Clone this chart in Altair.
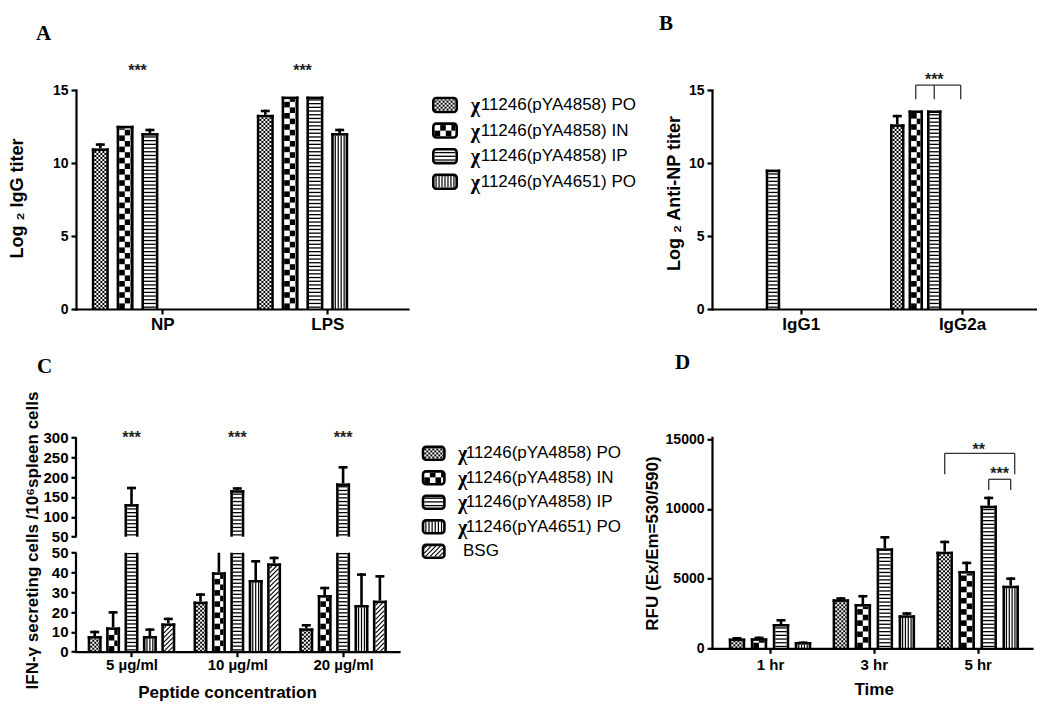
import math
import json
import altair as alt
import pandas as pd

alt.data_transformers.disable_max_rows()

# ------------------------------------------------------------------ data
SERIES = ["PO4858", "IN4858", "IP4858", "PO4651", "BSG"]
SERIES_LABELS = ["χ11246(pYA4858) PO", "χ11246(pYA4858) IN", "χ11246(pYA4858) IP",
                 "χ11246(pYA4651) PO", "BSG"]

# Panel A : Log2 IgG titer
A_groups = ["NP", "LPS"]
A_PO4858 = [11.0, 13.3]
A_IN4858 = [12.55, 14.55]
A_IP4858 = [12.05, 14.55]
A_PO4651 = [None, 12.05]
A_PO4858_sem = [0.35, 0.35]
A_IN4858_sem = [0.0, 0.0]
A_IP4858_sem = [0.3, 0.0]
A_PO4651_sem = [None, 0.3]
A_yticks = [0, 5, 10, 15]
A_sig = ["***", "***"]

# Panel B : Log2 anti-NP titer
B_groups = ["IgG1", "IgG2a"]
B_PO4858 = [None, 12.65]
B_IN4858 = [None, 13.6]
B_IP4858 = [9.55, 13.6]
B_PO4651 = [None, None]
B_PO4858_sem = [None, 0.65]
B_IN4858_sem = [None, 0.0]
B_IP4858_sem = [0.0, 0.0]
B_PO4651_sem = [None, None]
B_yticks = [0, 5, 10, 15]
B_sig = "***"

# Panel C : IFN-gamma secreting cells (broken axis 0-50 | 50-300)
C_groups = ["5 µg/ml", "10 µg/ml", "20 µg/ml"]
C_PO4858 = [7.9, 25.3, 11.8]
C_IN4858 = [12.3, 40.1, 28.6]
C_IP4858 = [132.0, 167.0, 184.0]
C_PO4651 = [7.9, 36.2, 23.6]
C_BSG = [14.3, 44.6, 25.8]
C_PO4858_sem = [2.7, 4.2, 2.2]
C_IN4858_sem = [8.2, 11.5, 4.2]
C_IP4858_sem = [43.7, 7.5, 43.7]
C_PO4651_sem = [3.9, 10.1, 16.0]
C_BSG_sem = [2.9, 3.4, 12.9]
C_yticks_low = [0, 10, 20, 30, 40, 50]
C_yticks_high = [50, 100, 150, 200, 250, 300]
C_sig = ["***", "***", "***"]

# Panel D : RFU
D_groups = ["1 hr", "3 hr", "5 hr"]
D_PO4858 = [700, 3516, 6933]
D_IN4858 = [720, 3180, 5548]
D_IP4858 = [1744, 7177, 10235]
D_PO4651 = [452, 2368, 4493]
D_PO4858_sem = [110, 150, 790]
D_IN4858_sem = [120, 650, 670]
D_IP4858_sem = [360, 880, 650]
D_PO4651_sem = [40, 220, 600]
D_yticks = [0, 5000, 10000, 15000]
D_sig = ["**", "***"]

# ------------------------------------------------------------------ styling helpers
SW = 2.6      # bar outline width (px)
CAP = 9.0     # error cap width (px)
EPS = 1e-3    # the axis break of panel C
PAT = {"PO4858": "fine", "IN4858": "coarse", "IP4858": "hstripe",
       "PO4651": "vstripe", "BSG": "diag"}
SANS = "Liberation Sans"
SERIF = "Liberation Serif"


def pattern(kind, u0, u1, v0, v1):
    """Fill pattern of a bar interior, in local pixel units."""
    rects, lines = [], []
    if u1 - u0 <= 0.2 or v1 - v0 <= 0.2:
        return rects, lines
    if kind in ("fine", "coarse"):
        c = 2.0 if kind == "fine" else 5.6
        nu = int(math.ceil((u1 - u0) / c - 1e-9))
        nv = int(math.ceil((v1 - v0) / c - 1e-9))
        for i in range(nu):
            for j in range(nv):
                if (i + j) % 2 == 0:
                    rects.append((u0 + i * c, min(u1, u0 + (i + 1) * c),
                                  v0 + j * c, min(v1, v0 + (j + 1) * c)))
    elif kind == "hstripe":
        p = 3.7
        v = v0 + p / 2
        while v < v1 - 0.4:
            lines.append((u0, v, u1, v, 1.3))
            v += p
    elif kind == "vstripe":
        n = max(1, int(round((u1 - u0) / 3.0)))
        step = (u1 - u0) / n
        for k in range(n):
            u = u0 + (k + 0.5) * step
            lines.append((u, v0, u, v1, 1.2))
    elif kind == "diag":
        p = 4.6
        w, h = u1 - u0, v1 - v0
        c = -h + p / 2
        while c < w:
            ua, ub = max(0.0, c), min(w, h + c)
            if ub > ua:
                lines.append((u0 + ua, v0 + ua - c, u0 + ub, v0 + ub - c, 1.1))
            c += p
    return rects, lines


def xgeom(left, right, centers):
    kx = (centers[-1] - centers[0]) / (len(centers) - 1)
    return kx, -(centers[0] - left) / kx, (right - centers[0]) / kx, right - left


def bar_marks(ngroups, keys, vals, sems, slot_of, nslots, pitch, barw, kx, xmin,
              ylo, yhi, ky, yorigin=None):
    rects, rules = [], []
    y0 = ylo if yorigin is None else yorigin

    def X(u):
        return xmin + u / kx

    def Y(v):
        return y0 + v / ky

    def line(ua, va, ub, vb, w, c="black"):
        rules.append({"x": X(ua), "y": Y(va), "x2": X(ub), "y2": Y(vb), "w": w, "c": c})

    for gi in range(ngroups):
        for key in keys:
            val = vals[key][gi]
            if val is None or val <= ylo:
                continue
            sem = sems[key][gi] or 0.0
            uc = (gi - xmin) * kx + (slot_of[key] - (nslots - 1) / 2) * pitch
            ul, ur = uc - barw / 2, uc + barw / 2
            clipped = val > yhi
            vt = (min(val, yhi) - ylo) * ky
            r, l = pattern(PAT[key], ul + SW, ur - SW, 0, vt if clipped else vt - SW)
            for (ua, ub, va, vb) in r:
                rects.append({"x": X(ua), "x2": X(ub), "y": Y(va), "y2": Y(vb)})
            for (ua, va, ub, vb, w) in l:
                line(ua, va, ub, vb, w)
            line(ul + SW / 2, 0, ul + SW / 2, vt, SW)
            line(ur - SW / 2, 0, ur - SW / 2, vt, SW)
            if not clipped:
                line(ul, vt - SW / 2, ur, vt - SW / 2, SW)
                if sem > 0:
                    top = val + sem
                    ve = (min(top, yhi) - ylo) * ky
                    line(uc, vt, uc, ve, SW)
                    if top <= yhi:
                        line(uc - CAP / 2, ve - SW / 2, uc + CAP / 2, ve - SW / 2, SW)
    return rects, rules


def frame(rows, cols):
    return pd.DataFrame(rows, columns=cols)


def panel_chart(rects, rules, texts, xdom, yscale, W, H, xaxis, yaxis, title=None):
    xs = alt.Scale(domain=list(xdom), nice=False, zero=False)

    def X():
        return alt.X("x:Q", scale=xs, axis=xaxis)

    def Y():
        return alt.Y("y:Q", scale=yscale, axis=yaxis)

    rect = alt.Chart(frame(rects, ["x", "x2", "y", "y2"])).mark_rect(
        color="black", strokeWidth=0).encode(x=X(), x2=alt.X2("x2"), y=Y(), y2=alt.Y2("y2"))
    rule = alt.Chart(frame(rules, ["x", "x2", "y", "y2", "w", "c"])).mark_rule(
        strokeCap="butt").encode(
        x=X(), x2=alt.X2("x2"), y=Y(), y2=alt.Y2("y2"),
        strokeWidth=alt.StrokeWidth("w:Q", scale=None),
        color=alt.Color("c:N", scale=None))
    layers = [rect, rule]
    if texts:
        layers.append(alt.Chart(frame(texts, ["x", "y", "t"])).mark_text(
            font=SANS, fontSize=16, fontWeight="bold", color="#222222",
            align="center", baseline="middle", dy=4).encode(x=X(), y=Y(), text="t:N"))
    ch = alt.layer(*layers).properties(width=W, height=H)
    if title is not None:
        ch = ch.properties(title=title)
    return ch


def lin(lo, hi):
    return alt.Scale(domain=[lo, hi], nice=False, zero=False)


def ptitle(letter, dx, offset, dy=0):
    return alt.TitleParams(text=letter, anchor="start", frame="group", font=SERIF,
                           fontSize=21, fontWeight="bold", color="black", dx=dx, dy=dy,
                           offset=offset, baseline="alphabetic")


def lab_expr(labels):
    return json.dumps(labels, ensure_ascii=False) + "[datum.value]"


def legend_chart(keys, W, H, sw_left, sw_w, sw_h, row0, step, chi_x, text_x, plain_x):
    rects, rules, outlines, chis, rests = [], [], [], [], []
    for i, key in enumerate(keys):
        vc = H - (row0 + i * step)
        u0, u1 = sw_left, sw_left + sw_w
        v0, v1 = vc - sw_h / 2, vc + sw_h / 2
        r, l = pattern(PAT[key], u0 + SW, u1 - SW, v0 + SW, v1 - SW)
        for (ua, ub, va, vb) in r:
            rects.append({"x": ua, "x2": ub, "y": va, "y2": vb})
        for (ua, va, ub, vb, w) in l:
            rules.append({"x": ua, "y": va, "x2": ub, "y2": vb, "w": w, "c": "black"})
        outlines.append({"x": u0 + SW / 2, "x2": u1 - SW / 2, "y": v0 + SW / 2, "y2": v1 - SW / 2})
        label = SERIES_LABELS[SERIES.index(key)]
        if label.startswith("χ"):
            chis.append({"x": chi_x, "y": vc, "t": "χ"})
            rests.append({"x": text_x, "y": vc, "t": label[1:]})
        else:
            rests.append({"x": plain_x, "y": vc, "t": label})
    xs = alt.Scale(domain=[0, W], nice=False, zero=False)
    ys = alt.Scale(domain=[0, H], nice=False, zero=False)

    def X():
        return alt.X("x:Q", scale=xs, axis=None)

    def Y():
        return alt.Y("y:Q", scale=ys, axis=None)

    l1 = alt.Chart(frame(rects, ["x", "x2", "y", "y2"])).mark_rect(
        color="black", strokeWidth=0).encode(x=X(), x2=alt.X2("x2"), y=Y(), y2=alt.Y2("y2"))
    l2 = alt.Chart(frame(rules, ["x", "x2", "y", "y2", "w", "c"])).mark_rule(
        strokeCap="butt").encode(
        x=X(), x2=alt.X2("x2"), y=Y(), y2=alt.Y2("y2"),
        strokeWidth=alt.StrokeWidth("w:Q", scale=None), color=alt.Color("c:N", scale=None))
    l3 = alt.Chart(frame(outlines, ["x", "x2", "y", "y2"])).mark_rect(
        fillOpacity=0, stroke="black", strokeWidth=SW, cornerRadius=3).encode(
        x=X(), x2=alt.X2("x2"), y=Y(), y2=alt.Y2("y2"))
    l4 = alt.Chart(frame(chis, ["x", "y", "t"])).mark_text(
        font=SERIF, fontSize=20, fontWeight="bold", align="left", baseline="middle",
        color="black", dy=1).encode(x=X(), y=Y(), text="t:N")
    l5 = alt.Chart(frame(rests, ["x", "y", "t"])).mark_text(
        font=SANS, fontSize=17, align="left", baseline="middle", color="black").encode(
        x=X(), y=Y(), text="t:N")
    return alt.layer(l1, l2, l3, l4, l5).properties(width=W, height=H)


def bracket(rules, xl, xr, ytop, ybot_l, ybot_r, xm=None, ybot_m=None):
    col = "#333333"
    rules.append({"x": xl, "y": ytop, "x2": xr, "y2": ytop, "w": 1.3, "c": col})
    rules.append({"x": xl, "y": ytop, "x2": xl, "y2": ybot_l, "w": 1.3, "c": col})
    rules.append({"x": xr, "y": ytop, "x2": xr, "y2": ybot_r, "w": 1.3, "c": col})
    if xm is not None:
        rules.append({"x": xm, "y": ytop, "x2": xm, "y2": ybot_m, "w": 1.3, "c": col})


# ------------------------------------------------------------------ panel A
kxA, xminA, xmaxA, WA = xgeom(77, 409, [163.3, 328.3])
HA = 219
kyA = HA / 15.0
keysA = ["PO4858", "IN4858", "IP4858", "PO4651"]
valsA = {"PO4858": A_PO4858, "IN4858": A_IN4858, "IP4858": A_IP4858, "PO4651": A_PO4651}
semsA = {"PO4858": A_PO4858_sem, "IN4858": A_IN4858_sem, "IP4858": A_IP4858_sem,
         "PO4651": A_PO4651_sem}
slotsA = {"PO4858": 0, "IN4858": 1, "IP4858": 2, "PO4651": 3}
pitchA = 24.8
rA, lA = bar_marks(len(A_groups), keysA, valsA, semsA, slotsA, 6, pitchA, 17, kxA, xminA, 0, 15, kyA)
tA = [{"x": gi - pitchA / kxA, "y": 16.6, "t": s} for gi, s in enumerate(A_sig)]
chartA = panel_chart(
    rA, lA, tA, (xminA, xmaxA), lin(0, 15), WA, HA,
    alt.Axis(values=[0, 1], labelExpr=lab_expr(A_groups), title=None,
             labelFontSize=17, labelPadding=2),
    alt.Axis(values=A_yticks, title="Log ₂ IgG titer", titleX=-58.5, titleY=108,
             titleFontSize=18, labelFontSize=14),
    title=ptitle("A", -40, 2))

# ------------------------------------------------------------------ panel B
kxB, xminB, xmaxB, WB = xgeom(713, 1038, [801.7, 963.0])
HB = 219
kyB = HB / 15.0
valsB = {"PO4858": B_PO4858, "IN4858": B_IN4858, "IP4858": B_IP4858, "PO4651": B_PO4651}
semsB = {"PO4858": B_PO4858_sem, "IN4858": B_IN4858_sem, "IP4858": B_IP4858_sem,
         "PO4651": B_PO4651_sem}
pitchB = 18.5
rB, lB = bar_marks(len(B_groups), keysA, valsB, semsB, slotsA, 8, pitchB, 14.5, kxB, xminB, 0, 15, kyB)
bxL = 1 + (1 - 3.5) * pitchB / kxB
bxM = 1 + (2 - 3.5) * pitchB / kxB
bxR = 1 - 1.3 / kxB
bracket(lB, bxL, bxR, 15.34, 14.36, 14.36, bxM, 14.36)
tB = [{"x": bxM, "y": 15.95, "t": B_sig}]
chartB = panel_chart(
    rB, lB, tB, (xminB, xmaxB), lin(0, 15), WB, HB,
    alt.Axis(values=[0, 1], labelExpr=lab_expr(B_groups), title=None,
             labelFontSize=17, labelPadding=2),
    alt.Axis(values=B_yticks, title="Log ₂ Anti-NP titer", titleX=-38, titleY=103,
             titleFontSize=18, labelFontSize=14),
    title=ptitle("B", -53, 21))

# ------------------------------------------------------------------ panel C (broken axis)
kxC, xminC, xmaxC, WC = xgeom(77, 400, [132.5, 238.3, 344.1])
keysC = ["PO4858", "IN4858", "IP4858", "PO4651", "BSG"]
valsC = {"PO4858": C_PO4858, "IN4858": C_IN4858, "IP4858": C_IP4858, "PO4651": C_PO4651,
         "BSG": C_BSG}
semsC = {"PO4858": C_PO4858_sem, "IN4858": C_IN4858_sem, "IP4858": C_IP4858_sem,
         "PO4651": C_PO4651_sem, "BSG": C_BSG_sem}
slotsC = {k: i for i, k in enumerate(keysC)}
pitchC = 18.4
HC_hi, HC_gap, HC_lo = 99.4, 16.0, 99.0
HC = HC_hi + HC_gap + HC_lo
brk = C_yticks_low[-1]
top = C_yticks_high[-1]
rCh, lCh = bar_marks(3, keysC, valsC, semsC, slotsC, 5, pitchC, 14, kxC, xminC, brk, top,
                     HC_hi / (top - brk), yorigin=brk + EPS)
rCl, lCl = bar_marks(3, keysC, valsC, semsC, slotsC, 5, pitchC, 14, kxC, xminC, 0, brk,
                     HC_lo / brk)
lC = lCl + lCh
# the two pieces of the broken y axis line
lC.append({"x": xminC, "y": 0, "x2": xminC, "y2": brk, "w": 2.2, "c": "black"})
lC.append({"x": xminC, "y": brk + EPS, "x2": xminC, "y2": top, "w": 2.2, "c": "black"})
tC = [{"x": gi, "y": 308, "t": s} for gi, s in enumerate(C_sig)]
yscaleC = alt.Scale(domain=[0, brk, brk + EPS, top], range=[HC, HC_hi + HC_gap, HC_hi, 0],
                    nice=False, zero=False)
chartC = panel_chart(
    rCl + rCh, lC, tC, (xminC, xmaxC), yscaleC, WC, HC,
    alt.Axis(values=[0, 1, 2], labelExpr=lab_expr(C_groups), title="Peptide concentration",
             titleX=151, titleY=41.3, titleFontSize=17, labelFontSize=15, labelPadding=1),
    alt.Axis(values=C_yticks_low + [v + EPS if v == brk else v for v in C_yticks_high],
             format="d", domain=False,
             title="IFN-γ secreting cells /10⁶spleen cells",
             titleX=-44, titleY=102.7, titleFontSize=17, labelFontSize=15),
    title=ptitle("C", -39, 28, dy=31))

# ------------------------------------------------------------------ panel D
kxD, xminD, xmaxD, WD = xgeom(715, 1035, [773.0, 876.85, 980.7])
HD = 211
ymaxD = 15000 * HD / 209.0
kyD = HD / ymaxD
valsD = {"PO4858": D_PO4858, "IN4858": D_IN4858, "IP4858": D_IP4858, "PO4651": D_PO4651}
semsD = {"PO4858": D_PO4858_sem, "IN4858": D_IN4858_sem, "IP4858": D_IP4858_sem,
         "PO4651": D_PO4651_sem}
pitchD = 22
rD, lD = bar_marks(3, keysA, valsD, semsD, slotsA, 4, pitchD, 16.5, kxD, xminD, 0, ymaxD, kyD)
dxL = 2 + (0 - 1.5) * pitchD / kxD
dxR = 2 + (1.5 * pitchD + 4) / kxD
bracket(lD, dxL, dxR, 13995, 12488, 12488)
sxL = 2 + 0.5 * pitchD / kxD
sxR = 2 + 1.5 * pitchD / kxD
bracket(lD, sxL, sxR, 12130, 11362, 11362)
tD = [{"x": 2 + 1 / kxD, "y": 14520, "t": D_sig[0]},
      {"x": (sxL + sxR) / 2, "y": 12800, "t": D_sig[1]}]
chartD = panel_chart(
    rD, lD, tD, (xminD, xmaxD), lin(0, ymaxD), WD, HD,
    alt.Axis(values=[0, 1, 2], labelExpr=lab_expr(D_groups), title="Time",
             titleX=161.7, titleY=41, titleFontSize=17, labelFontSize=15, labelPadding=4),
    alt.Axis(values=D_yticks, format="d", title="RFU (Ex/Em=530/590)", titleX=-60,
             titleY=105.7, titleFontSize=17, labelFontSize=14),
    title=ptitle("D", -37, 46, dy=4))

# ------------------------------------------------------------------ legends
legend1 = legend_chart(keysA, 284, 219, 14, 26, 16.5, 15, 25.6, 52.7, 62.7, 60)
legend2 = legend_chart(keysC, 284, 214, 3.7, 24, 15.5, 16, 24.5, 40, 47.7, 45)

chart = alt.concat(
    chartA, legend1, chartB, chartC, legend2, chartD,
    columns=3, spacing={"row": 128.3, "column": 10}, bounds="flush", align="each"
).properties(
    padding={"left": 0, "top": 5, "right": 0, "bottom": 0}
).configure_view(stroke=None).configure_axis(
    domainColor="black", domainWidth=2.2, domainCap="square",
    tickColor="black", tickWidth=2.2, tickSize=5,
    labelFont=SANS, labelFontWeight="bold", labelColor="black",
    labelOverlap=False, labelFlush=False, labelPadding=3,
    titleFont=SANS, titleFontWeight="bold", titleColor="black",
    grid=False
).configure_axisY(
    titleAngle=270, titleAlign="center", titleBaseline="middle"
).configure_axisX(
    titleAngle=0, titleAlign="center", titleBaseline="middle"
)

chart.save("out.html", embed_options={"renderer": "svg", "actions": False})
